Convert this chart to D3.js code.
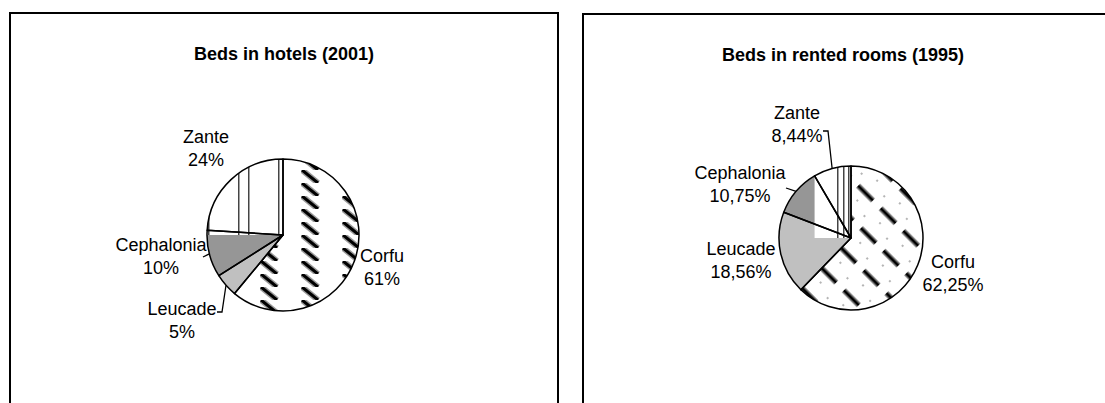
<!DOCTYPE html>
<html>
<head>
<meta charset="utf-8">
<script src="https://cdn.jsdelivr.net/npm/d3@7"></script>
<style>
  body { margin: 0; background: #fff; }
  svg text { font-family: "Liberation Sans", Arial, sans-serif; fill: #000; }
</style>
</head>
<body>
<div id="chart"></div>
<script>
// Data
const categories = ["Corfu", "Leucade", "Cephalonia", "Zante"];
const hotels2001 = [61, 5, 10, 24];
const rooms1995 = [62.25, 18.56, 10.75, 8.44];
const titles = ["Beds in hotels (2001)", "Beds in rented rooms (1995)"];

const width = 1105, height = 403;

const svg = d3.select('#chart')
  .append('svg')
  .attr('width', width)
  .attr('height', height);

svg.append('rect').attr('width', width).attr('height', height).attr('fill', '#fff');

const defs = svg.append('defs');

// decimal comma for the second chart
const euro = d3.formatLocale({decimal: ',', thousands: '.', grouping: [3], currency: ['', '']});
const fmtInt = v => d3.format('.0f')(v) + '%';
const fmtDec = v => euro.format('.2f')(v) + '%';

// Layout of each panel (pixels)
const panels = [
  {
    id: 'hotels', values: hotels2001, fmt: fmtInt, title: titles[0],
    box: {x: 10, y: 13, w: 548}, titleX: 284, titleY: 60,
    cx: 283, cy: 235, r: 76,
    labels: {
      Corfu: {x: 382, y: 262},
      Leucade: {x: 182, y: 315, leader: [[217, 312], [222, 312]]},
      Cephalonia: {x: 161, y: 251, leader: [[203, 257]]},
      Zante: {x: 206, y: 143}
    },
    corfu: 'stripes', corfuX: -23, zanteX: -45, zanteLines: [0, 10]
  },
  {
    id: 'rooms', values: rooms1995, fmt: fmtDec, title: titles[1],
    box: {x: 583, y: 14, w: 600}, titleX: 843, titleY: 61,
    cx: 851, cy: 238, r: 72,
    labels: {
      Corfu: {x: 953, y: 268},
      Leucade: {x: 741, y: 255},
      Cephalonia: {x: 740, y: 179, leader: [[786, 188]]},
      Zante: {x: 797, y: 119, leader: [[823, 131], [828, 131]]}
    },
    corfu: 'checks', corfuX: 0, zanteX: -14, zanteLines: [0, 6, 11]
  }
];

function strokePair(g, x1, y1, x2, y2) {
  g.append('line').attr('x1', x1).attr('y1', y1).attr('x2', x2).attr('y2', y2)
    .attr('stroke', '#9a9a9a').attr('stroke-width', 6).attr('stroke-linecap', 'butt');
  g.append('line').attr('x1', x1).attr('y1', y1).attr('x2', x2).attr('y2', y2)
    .attr('stroke', '#000').attr('stroke-width', 3).attr('stroke-linecap', 'butt');
}

function makePatterns(p) {
  // Corfu
  const pc = defs.append('pattern').attr('id', p.id + '-corfu')
    .attr('patternUnits', 'userSpaceOnUse');
  if (p.corfu === 'stripes') {
    pc.attr('x', p.corfuX).attr('y', 0).attr('width', 41).attr('height', 13);
    pc.append('rect').attr('width', 41).attr('height', 13).attr('fill', '#fff');
    strokePair(pc, 1, 0, 17, 13);
  } else {
    pc.attr('width', 32).attr('height', 28).attr('patternTransform', 'rotate(45)');
    pc.append('rect').attr('width', 32).attr('height', 28).attr('fill', '#fff');
    pc.append('line').attr('x1', 0).attr('y1', 14).attr('x2', 21).attr('y2', 14)
      .attr('stroke', '#9a9a9a').attr('stroke-width', 6);
    pc.append('line').attr('x1', 0).attr('y1', 14).attr('x2', 21).attr('y2', 14)
      .attr('stroke', '#000').attr('stroke-width', 3);
    pc.append('circle').attr('cx', 26).attr('cy', 3).attr('r', 0.8).attr('fill', '#555');
    pc.append('circle').attr('cx', 10).attr('cy', 25).attr('r', 0.8).attr('fill', '#555');
  }
  // Zante
  const pz = defs.append('pattern').attr('id', p.id + '-zante')
    .attr('patternUnits', 'userSpaceOnUse')
    .attr('x', p.zanteX).attr('y', 0).attr('width', 40).attr('height', 20);
  pz.append('rect').attr('width', 40).attr('height', 20).attr('fill', '#fff');
  p.zanteLines.forEach(d => {
    pz.append('line').attr('x1', d + 0.75).attr('x2', d + 0.75).attr('y1', 0).attr('y2', 20)
      .attr('stroke', '#444').attr('stroke-width', 1.5);
  });
}

const fills = {
  Corfu: p => `url(#${p.id}-corfu)`,
  Leucade: () => '#c0c0c0',
  Cephalonia: () => '#969696',
  Zante: () => '#fff'
};

panels.forEach(p => {
  makePatterns(p);

  // frame
  svg.append('rect')
    .attr('x', p.box.x).attr('y', p.box.y)
    .attr('width', p.box.w).attr('height', height)
    .attr('fill', 'none').attr('stroke', '#000').attr('stroke-width', 2);

  svg.append('text')
    .attr('x', p.titleX).attr('y', p.titleY)
    .attr('text-anchor', 'middle')
    .attr('font-size', 18).attr('font-weight', 'bold')
    .text(p.title);

  const pie = d3.pie().sort(null).value(d => d.value);
  const arcs = pie(categories.map((c, i) => ({name: c, value: p.values[i]})));
  const arc = d3.arc().innerRadius(0).outerRadius(p.r);

  const g = svg.append('g').attr('transform', `translate(${p.cx},${p.cy})`);

  defs.append('clipPath').attr('id', p.id + '-clip')
    .append('circle').attr('r', p.r);

  g.selectAll('path.fill')
    .data(arcs)
    .join('path')
    .attr('class', 'fill')
    .attr('d', arc)
    .attr('fill', d => fills[d.data.name](p));

  // Zante's pattern is painted over its whole bounding box, inside the pie
  const zante = arcs.find(d => d.data.name === 'Zante');
  const tmp = g.append('path').attr('d', arc(zante)).attr('fill', 'none');
  const bb = tmp.node().getBBox();
  tmp.remove();
  g.append('rect')
    .attr('x', bb.x).attr('y', bb.y).attr('width', bb.width).attr('height', bb.height)
    .attr('fill', `url(#${p.id}-zante)`)
    .attr('clip-path', `url(#${p.id}-clip)`);

  g.selectAll('path.edge')
    .data(arcs)
    .join('path')
    .attr('class', 'edge')
    .attr('d', arc)
    .attr('fill', 'none')
    .attr('stroke', '#000')
    .attr('stroke-width', 1.5)
    .attr('stroke-linejoin', 'round');

  // labels
  arcs.forEach(d => {
    const L = p.labels[d.data.name];
    const t = svg.append('text')
      .attr('text-anchor', 'middle')
      .attr('font-size', 18);
    t.append('tspan').attr('x', L.x).attr('y', L.y).text(d.data.name);
    t.append('tspan').attr('x', L.x).attr('y', L.y + 23).text(p.fmt(d.data.value));

    if (L.leader) {
      const a = (d.startAngle + d.endAngle) / 2;
      const end = [p.cx + Math.sin(a) * p.r, p.cy - Math.cos(a) * p.r];
      svg.append('path')
        .attr('d', d3.line()([...L.leader, end]))
        .attr('fill', 'none')
        .attr('stroke', '#000')
        .attr('stroke-width', 1.3);
    }
  });
});
</script>
</body>
</html>
